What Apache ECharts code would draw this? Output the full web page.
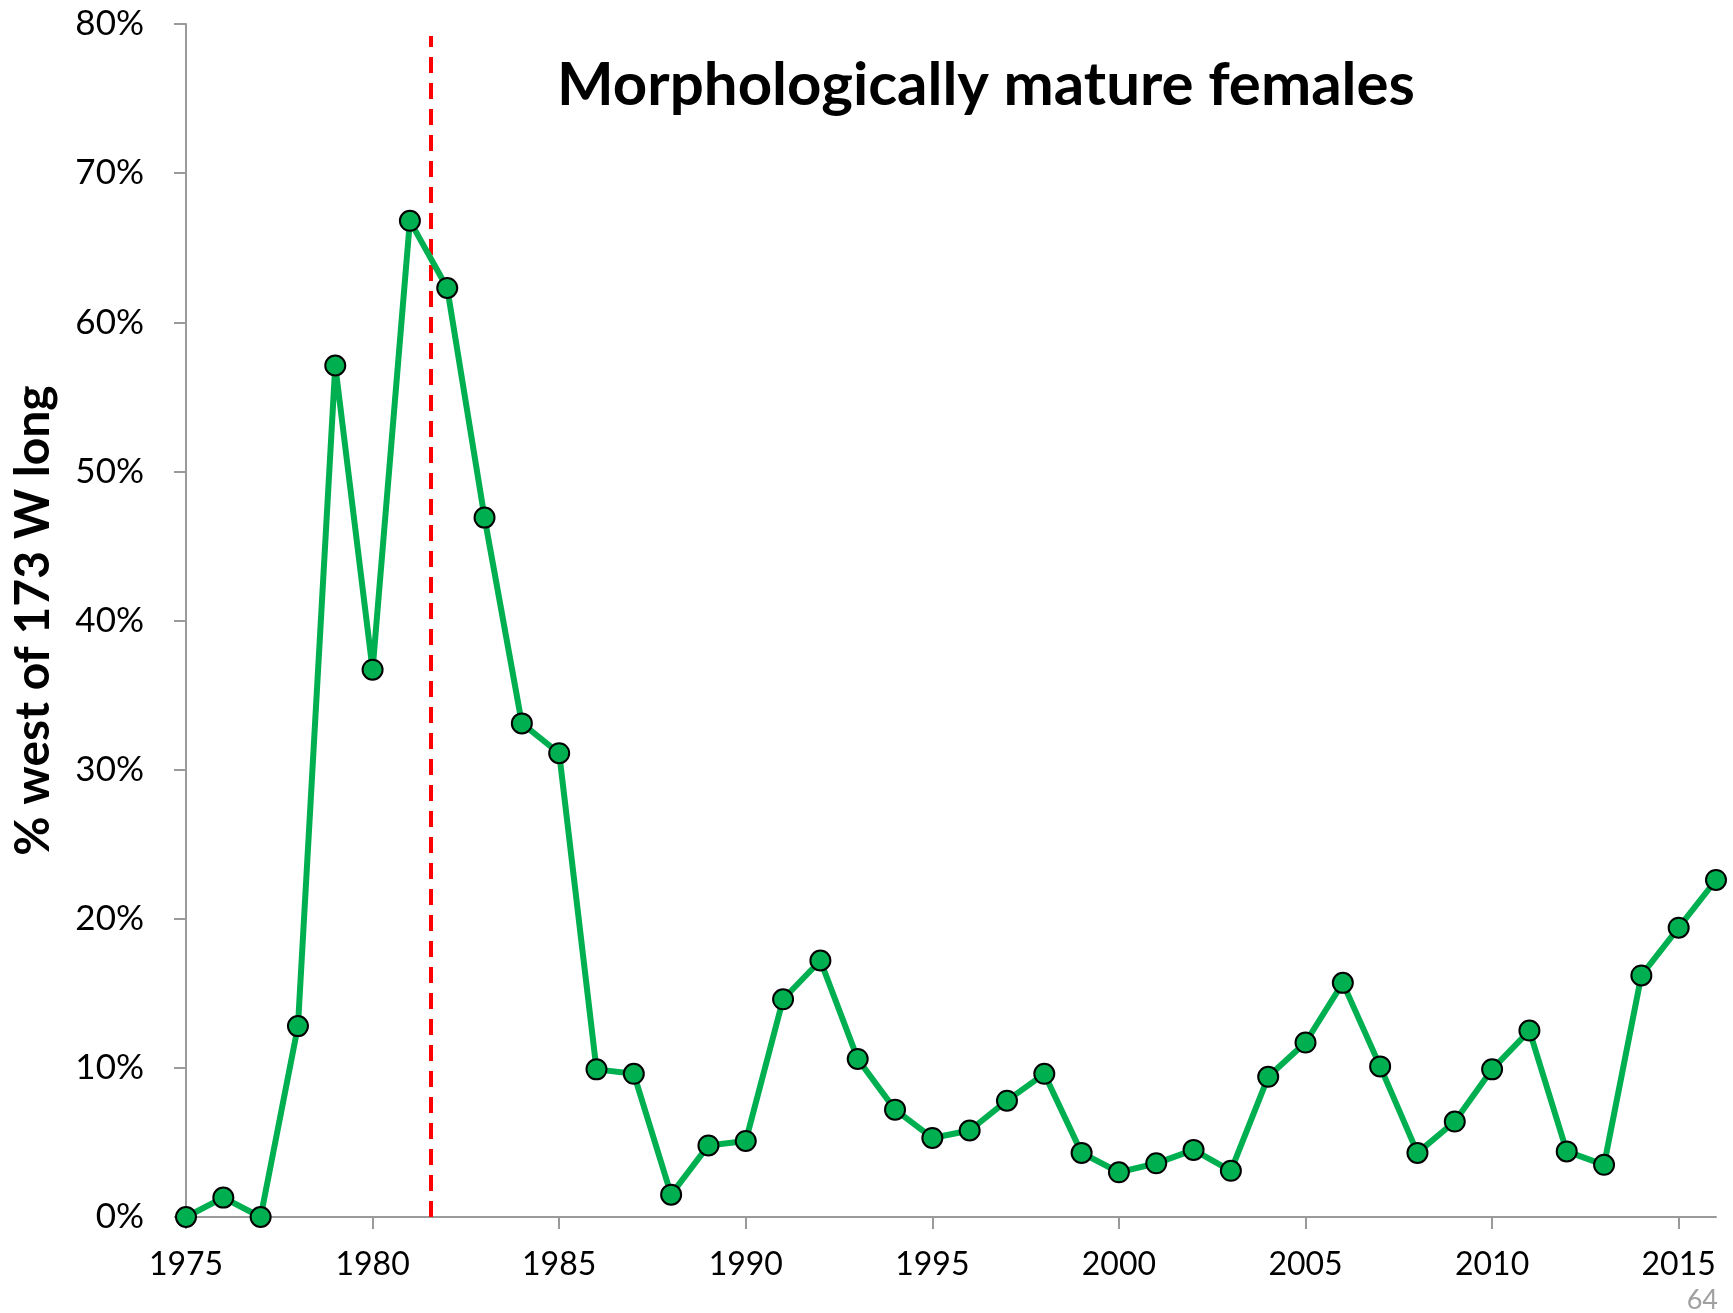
<!DOCTYPE html>
<html>
<head>
<meta charset="utf-8">
<title>Morphologically mature females</title>
<script src="https://cdn.jsdelivr.net/npm/echarts@6/dist/echarts.min.js"></script>
<style>
  html, body { margin: 0; padding: 0; background: #ffffff; }
  #chart { width: 1733px; height: 1313px; }
</style>
</head>
<body>
<div id="chart"></div>
<script>
// Survey years and the share (%) of morphologically mature females found west of 173 W
const years = [
  1975, 1976, 1977, 1978, 1979, 1980, 1981, 1982, 1983, 1984,
  1985, 1986, 1987, 1988, 1989, 1990, 1991, 1992, 1993, 1994,
  1995, 1996, 1997, 1998, 1999, 2000, 2001, 2002, 2003, 2004,
  2005, 2006, 2007, 2008, 2009, 2010, 2011, 2012, 2013, 2014,
  2015, 2016
];
const pctWest = [
  0.0, 1.3, 0.0, 12.8, 57.1, 36.7, 66.8, 62.3, 46.9, 33.1,
  31.1, 9.9, 9.6, 1.5, 4.8, 5.1, 14.6, 17.2, 10.6, 7.2,
  5.3, 5.8, 7.8, 9.6, 4.3, 3.0, 3.6, 4.5, 3.1, 9.4,
  11.7, 15.7, 10.1, 4.3, 6.4, 9.9, 12.5, 4.4, 3.5, 16.2,
  19.4, 22.6
];
// Labelled year ticks along the bottom axis
const yearTicks = [1975, 1980, 1985, 1990, 1995, 2000, 2005, 2010, 2015];
// Regime-shift marker year and the top of its dashed line (%)
const shiftYear = 1981.55;
const shiftTop = 79.2;

const titleText = 'Morphologically mature females';
const yName = '% west of 173 W long';
const pageNo = '64';

const FONT = 'Lato, "Open Sans", sans-serif';
const AXIS_GREY = '#9a9a9a';

const chart = echarts.init(document.getElementById('chart'), null, { renderer: 'canvas' });

chart.setOption({
  animation: false,
  backgroundColor: '#ffffff',
  grid: { left: 186, right: 17, top: 24, bottom: 96, containLabel: false },
  xAxis: {
    type: 'value',
    min: 1975,
    max: 2016,
    interval: 5,
    splitLine: { show: false },
    axisLine: { show: true, lineStyle: { color: AXIS_GREY, width: 2 } },
    axisTick: { show: true, length: 12, customValues: yearTicks, lineStyle: { color: AXIS_GREY, width: 2 } },
    axisLabel: {
      customValues: yearTicks,
      margin: 32,
      color: '#000000',
      fontFamily: FONT,
      fontSize: 32,
      formatter: v => String(v)
    }
  },
  yAxis: {
    type: 'value',
    min: 0,
    max: 80,
    interval: 10,
    name: yName,
    nameLocation: 'middle',
    nameGap: 128,
    nameTextStyle: { color: '#000000', fontFamily: FONT, fontWeight: 'bold', fontSize: 48 },
    splitLine: { show: false },
    axisLine: { show: true, lineStyle: { color: AXIS_GREY, width: 2 } },
    axisTick: { show: true, length: 12, lineStyle: { color: AXIS_GREY, width: 2 } },
    axisLabel: {
      margin: 42,
      color: '#000000',
      fontFamily: FONT,
      fontSize: 35,
      formatter: '{value}%'
    }
  },
  series: [{
    type: 'line',
    data: years.map((y, i) => [y, pctWest[i]]),
    symbol: 'circle',
    symbolSize: 20,
    showAllSymbol: true,
    clip: false,
    lineStyle: { color: '#00b050', width: 6 },
    itemStyle: { color: '#00b050', borderColor: '#000000', borderWidth: 2 },
    z: 3,
    markLine: {
      silent: true,
      symbol: ['none', 'none'],
      label: { show: false },
      lineStyle: { color: '#ff0000', width: 4, type: [16, 10] },
      z: 2,
      data: [[{ coord: [shiftYear, 0] }, { coord: [shiftYear, shiftTop] }]]
    }
  }],
  graphic: [
    {
      type: 'text',
      x: 986,
      y: 86,
      style: {
        text: titleText,
        fill: '#000000',
        font: 'bold 60px ' + FONT,
        textAlign: 'center',
        textVerticalAlign: 'middle'
      }
    },
    {
      type: 'text',
      x: 1718,
      y: 1300,
      style: {
        text: pageNo,
        fill: '#a0a0a0',
        font: '27px ' + FONT,
        textAlign: 'right',
        textVerticalAlign: 'middle'
      }
    }
  ]
});
</script>
</body>
</html>
